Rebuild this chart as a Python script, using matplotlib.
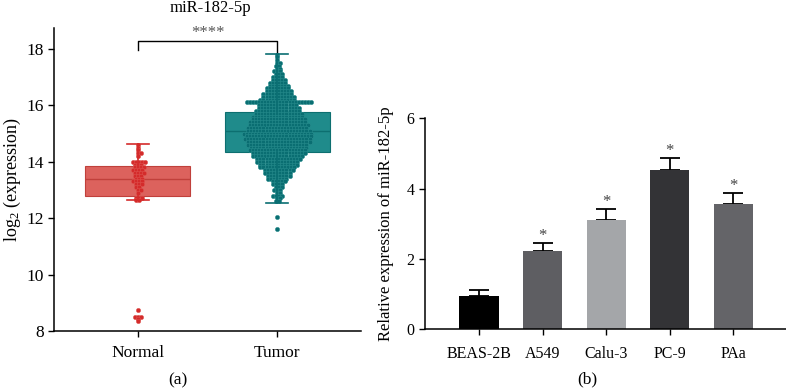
import numpy as np
import matplotlib.pyplot as plt

plt.rcParams['font.family'] = ['Liberation Serif', 'DejaVu Serif']
plt.rcParams['mathtext.default'] = 'regular'

# ---- panel (a): miR-182-5p, Normal vs Tumor ----
groups = ['Normal', 'Tumor']
# box stats: whislo, q1, med, q3, whishi
normal_box = [12.63, 12.78, 13.39, 13.86, 14.62]
tumor_box = [12.55, 14.36, 15.09, 15.75, 17.81]

# samples as (value level, number of points at that level)
normal_levels = [14.6, 14.5, 14.4, 14.3, 14.2, 14.0, 13.9, 13.8, 13.7, 13.6,
                 13.5, 13.4, 13.3, 13.2, 13.1, 13.0, 12.9, 12.7, 12.65,
                 8.75, 8.5, 8.42, 8.35]
normal_counts = [1, 1, 1, 2, 1, 5, 3, 4, 4, 4,
                 3, 3, 4, 3, 2, 2, 1, 3, 2,
                 1, 3, 1, 1]

tumor_levels = [17.8, 17.7, 17.6, 17.5, 17.4, 17.3, 17.2, 17.1, 17.0, 16.9,
                16.8, 16.7, 16.6, 16.5, 16.4, 16.3, 16.2, 16.1, 16.0, 15.9,
                15.8, 15.7, 15.6, 15.5, 15.4, 15.3, 15.2, 15.1, 15.0, 14.9,
                14.8, 14.7, 14.6, 14.5, 14.4, 14.3, 14.2, 14.1, 14.0, 13.9,
                13.8, 13.7, 13.6, 13.5, 13.4, 13.3, 13.2, 13.1, 13.0, 12.9,
                12.8, 12.7, 12.6, 12.05, 11.62]
tumor_counts = [1, 1, 1, 2, 2, 2, 3, 3, 4, 5,
                6, 7, 8, 9, 10, 11, 12, 22, 13, 14,
                15, 16, 17, 18, 19, 20, 20, 21, 23, 22,
                22, 21, 20, 19, 19, 18, 17, 15, 14, 13,
                12, 10, 9, 8, 7, 5, 4, 3, 3, 2,
                4, 2, 2, 1, 1]

# ---- panel (b): relative expression in cell lines ----
cells = ['BEAS-2B', 'A549', 'Calu-3', 'PC-9', 'PAa']
rel_expr = [0.95, 2.23, 3.10, 4.52, 3.57]
rel_err = [0.16, 0.23, 0.31, 0.35, 0.31]
signif = ['', '*', '*', '*', '*']
bar_colors = ['#000000', '#5e5e62', '#a4a6a9', '#333336', '#646468']

pt_colors = ['#d42b2b', '#0a6e72']
pt_edges = ['#e05a55', '#2f9494']
box_colors = ['#dc625d', '#1f8b8b']
edge_colors = ['#c0403b', '#0d6f70']


def swarm(ax, pos, levels, counts, color, edge, step=0.022):
    xs, ys = [], []
    for k, (lv, n) in enumerate(zip(levels, counts)):
        shift = step / 2 if (k % 2 and n > 1) else 0
        off = (np.arange(n) - (n - 1) / 2) * step + shift
        xs.extend(pos + off)
        ys.extend([lv] * n)
    ax.scatter(xs, ys, s=10, color=color, edgecolors=edge, linewidths=0.3, zorder=3)


fig = plt.figure(figsize=(7.86, 3.90), dpi=100)

ax1 = fig.add_axes([54 / 786, 59 / 390, 307 / 786, 302.7 / 390])
stats = []
for b in (normal_box, tumor_box):
    stats.append(dict(whislo=b[0], q1=b[1], med=b[2], q3=b[3], whishi=b[4], fliers=[]))
bp = ax1.bxp(stats, positions=[0, 1], widths=0.755, patch_artist=True,
             showfliers=False, capwidths=0.155)
for i in range(2):
    bp['boxes'][i].set(facecolor=box_colors[i], edgecolor=edge_colors[i], linewidth=0.8, zorder=1)
    bp['medians'][i].set(color=edge_colors[i], linewidth=1, zorder=2)
    for w in bp['whiskers'][2 * i:2 * i + 2]:
        w.set(color=pt_colors[i], linewidth=1.2, zorder=4)
    for c in bp['caps'][2 * i:2 * i + 2]:
        c.set(color=pt_colors[i], linewidth=1.2, zorder=4)

swarm(ax1, 0, normal_levels, normal_counts, pt_colors[0], pt_edges[0])
swarm(ax1, 1, tumor_levels, tumor_counts, pt_colors[1], pt_edges[1])

# significance bracket
ax1.plot([0, 0, 1, 1], [17.97, 18.27, 18.27, 17.8], color='black', lw=1, clip_on=False)
ax1.text(0.5, 18.55, '****', ha='center', va='center', fontsize=12, color='#555555')

ax1.set_xlim(-0.6, 1.6)
ax1.set_ylim(8, 18.73)
ax1.set_yticks([8, 10, 12, 14, 16, 18])
ax1.set_xticks([0, 1])
ax1.set_xticklabels(groups)
ax1.set_ylabel('log$_2$ (expression)', fontsize=13)
ax1.yaxis.set_label_coords(-0.1, 0.5)
for s in ['top', 'right']:
    ax1.spines[s].set_visible(False)
for s in ['left', 'bottom']:
    ax1.spines[s].set_linewidth(1.1)
ax1.tick_params(direction='out', length=4, width=1, labelsize=12.5)
ax1.tick_params(axis='x', pad=6)

fig.text(210 / 786, 1 - 7.5 / 390, 'miR-182-5p', ha='center', va='center', fontsize=12)
fig.text(178 / 786, 1 - 380 / 390, '(a)', ha='center', va='center', fontsize=12.5)

# panel (b)
ax2 = fig.add_axes([425 / 786, 61 / 390, 361 / 786, 210.7 / 390])
xpos = np.arange(len(cells))
ax2.bar(xpos, rel_expr, width=0.62, color=bar_colors, zorder=2)
ax2.errorbar(xpos, rel_expr, yerr=[[0] * len(cells), rel_err], fmt='none',
             ecolor='black', elinewidth=1.3, capsize=7.5, capthick=1.3, zorder=1)
for x, v, e, s in zip(xpos, rel_expr, rel_err, signif):
    if s:
        ax2.text(x, v + e + 0.2, s, ha='center', va='center', fontsize=12, color='#444444')

ax2.set_xlim(-0.853, 4.83)
ax2.set_ylim(0, 6)
ax2.set_yticks([0, 2, 4, 6])
ax2.set_xticks(xpos)
ax2.set_xticklabels(cells)
ax2.set_ylabel('Relative expression of miR-182-5p', fontsize=12)
ax2.yaxis.set_label_coords(-0.085, 0.5)
for s in ['top', 'right']:
    ax2.spines[s].set_visible(False)
for s in ['left', 'bottom']:
    ax2.spines[s].set_linewidth(1.1)
ax2.tick_params(direction='out', length=4, width=1, labelsize=11.5)
ax2.tick_params(axis='x', pad=8)

fig.text(587 / 786, 1 - 379 / 390, '(b)', ha='center', va='center', fontsize=12.5)

fig.savefig('out.png', dpi=100)
